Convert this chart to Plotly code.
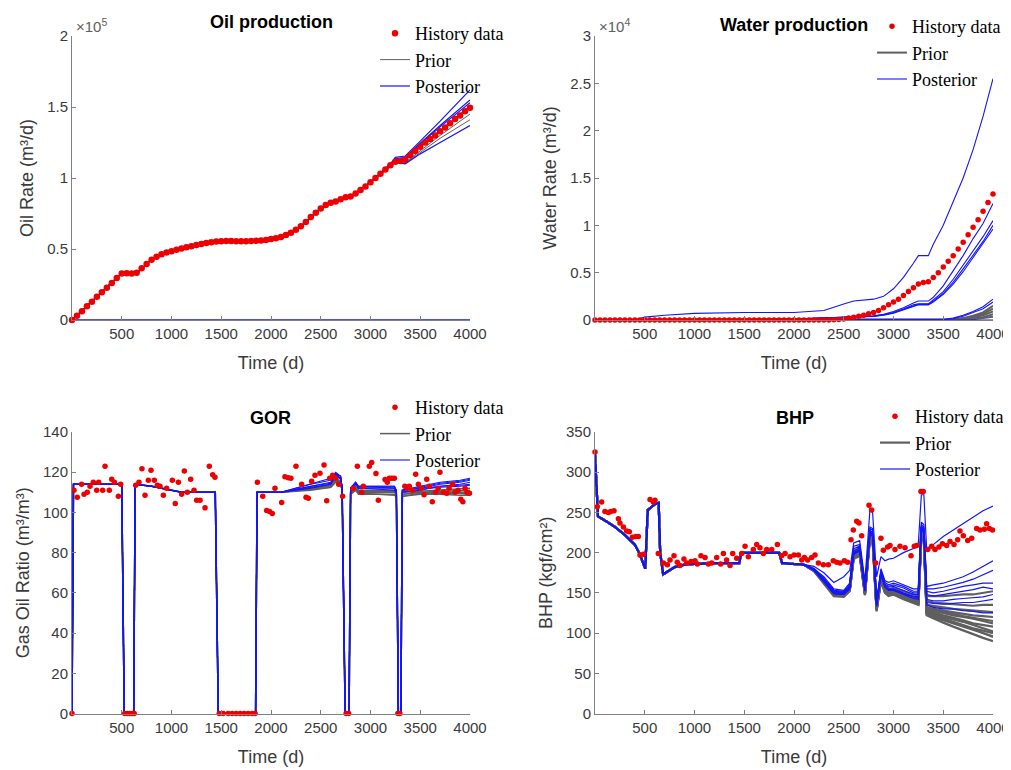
import plotly.graph_objects as go

# ---------------- OIL ----------------
oil_hist_t = list(range(0, 4001, 50))
oil_hist_v = [0, 3000, 6200, 9600, 12900, 16300, 19500, 22700, 26000, 29500,
              32800, 33000, 32800, 33200, 36500, 39500, 42500, 44500, 46300, 47500,
              48500, 49500, 50300, 51200, 52000, 52800, 53500, 54200, 54800, 55200,
              55500, 55600, 55600, 55500, 55500, 55500, 55600, 55800, 56000, 56400,
              57000, 57600, 58500, 59800, 61500, 63500, 66000, 69000, 72500, 75500,
              78500, 81000, 82500, 83500, 85000, 86500, 87000, 89000, 91500, 94000,
              97000, 100000, 103000, 106000, 109000, 111500, 112000, 113000, 116000, 119000,
              122000, 125000, 127500, 130000, 133000, 135500, 138500, 141500, 144000, 147000,
              149500]
oil_t_head = [0, 500, 650, 800, 1000, 1200, 1500, 1900, 2100, 2300, 2500, 2600, 2750, 2800, 3000]
oil_head = [0, 33000, 33000, 42500, 48500, 52000, 55500, 56000, 58500, 66000, 78500, 82500, 86500, 87000, 97000]
oil_t_tail = [3200, 3250, 3350, 3500, 3700, 4000]
oil_post_tails = [
    [110000, 114500, 115500, 126000, 140000, 162000],
    [109500, 113000, 114000, 124000, 136000, 153000],
    [109000, 112000, 113000, 122500, 133500, 150500],
    [108500, 111000, 110000, 117000, 125000, 137000],
    [109500, 113500, 114500, 124500, 137000, 155000],
]
oil_prior_tails = [
    [109000, 111500, 111000, 119000, 130000, 145000],
    [108800, 111200, 110500, 118000, 128000, 141000],
]
oil_zero_t = [0, 4000]
oil_zero_v = [0, 0]

# ---------------- WATER ----------------
wat_hist_t = list(range(0, 4001, 50))
wat_hist_v = [0, 0, 0, 0, 0, 0, 0, 0, 0, 0,
              0, 0, 0, 0, 0, 0, 0, 0, 0, 0,
              0, 0, 0, 0, 0, 0, 0, 0, 0, 0,
              0, 0, 0, 0, 0, 0, 0, 0, 0, 0,
              0, 0, 0, 0, 0, 0, 0, 0, 30, 50,
              100, 200, 300, 400, 500, 650, 800, 1000, 1300, 1600,
              1900, 2200, 2600, 3000, 3400, 3800, 3950, 4050, 4500, 5000,
              5600, 6200, 6800, 7500, 8200, 9000, 9800, 10600, 11500, 12400,
              13300]
wat_t_line = [0, 400, 500, 700, 1000, 1500, 2000, 2300, 2500, 2600, 2800, 2900,
              3000, 3100, 3200, 3250, 3350, 3400, 3500, 3600, 3700, 3800, 3900, 4000]
wat_post = [
    [0, 0, 300, 500, 700, 800, 800, 1000, 1700, 2000, 2200, 2500, 3300, 4500, 6000, 6800, 6800, 8000, 10000, 12500, 15000, 18000, 21500, 25500],
    [0, 0, 0, 0, 0, 50, 100, 200, 300, 350, 450, 600, 900, 1300, 1800, 2000, 2000, 2400, 3600, 5200, 6800, 8600, 10200, 12300],
    [0, 0, 0, 0, 0, 50, 100, 180, 280, 330, 420, 560, 800, 1150, 1600, 1700, 1700, 2100, 3000, 4300, 5800, 7300, 8800, 10500],
    [0, 0, 0, 0, 0, 40, 90, 170, 260, 310, 400, 530, 760, 1100, 1500, 1650, 1650, 2000, 2800, 4000, 5400, 6900, 8300, 10000],
    [0, 0, 0, 0, 0, 40, 80, 160, 250, 300, 380, 500, 720, 1050, 1450, 1600, 1600, 1900, 2700, 3800, 5100, 6600, 8000, 9600],
    [0, 0, 0, 0, 0, 0, 0, 0, 0, 0, 0, 0, 0, 0, 0, 0, 0, 0, 50, 200, 500, 900, 1400, 2200],
    [0, 0, 0, 0, 0, 0, 0, 0, 0, 0, 0, 0, 0, 0, 0, 0, 0, 0, 30, 150, 400, 800, 1200, 1900],
    [0, 0, 0, 0, 0, 0, 0, 0, 0, 0, 0, 0, 0, 0, 0, 0, 0, 0, 0, 0, 0, 0, 0, 0],
]
wat_t_prior = [0, 3500, 3600, 3700, 3800, 3900, 4000]
wat_prior = [
    [0, 0, 50, 200, 450, 800, 1500],
    [0, 0, 30, 150, 350, 650, 1200],
    [0, 0, 20, 100, 250, 500, 900],
    [0, 0, 10, 60, 150, 300, 600],
    [0, 0, 0, 30, 80, 180, 350],
]

# ---------------- GOR ----------------
gor_hist_t = [0, 20, 53, 97, 121, 154, 181, 214, 248, 268, 308, 332, 375, 399, 426, 466, 489,
              530, 555, 580, 605, 625,
              640, 673, 703, 734, 767, 794, 827, 858, 884, 918, 951, 1008, 1038, 1069, 1102,
              1129, 1159, 1193, 1226, 1253, 1287, 1337, 1380, 1414, 1437,
              1480, 1520, 1570, 1610, 1650, 1690, 1730, 1770, 1810, 1840,
              1863, 1917, 1956, 1985, 2013, 2040, 2107, 2140, 2173, 2200, 2251, 2308, 2352,
              2375, 2408, 2442, 2492, 2533, 2560, 2590, 2620, 2650, 2680, 2720,
              2755, 2780,
              2825, 2868, 2911, 2928, 2988, 3012, 3055, 3079, 3146, 3169, 3190, 3215, 3240,
              3275, 3295,
              3345, 3370, 3390, 3420, 3454, 3481, 3510, 3538, 3565, 3590, 3621, 3655, 3680,
              3698, 3732, 3765, 3790, 3826, 3850, 3880, 3908, 3928, 3950, 3968, 3995]
gor_hist_v = [0, 111, 107.5, 114, 109, 110, 113, 115, 111, 115, 111, 123, 111, 116.5, 115, 108, 114,
              0, 0, 0, 0, 0,
              113.5, 115, 121.7, 108.5, 116, 121, 116, 113.5, 113, 108.6, 112, 116, 104.5, 115, 109,
              120.6, 110, 116.5, 111, 106, 106, 102.3, 123, 118.7, 117.5,
              0, 0, 0, 0, 0, 0, 0, 0, 0, 0,
              115, 108, 101, 100.5, 99.5, 112, 105, 117.8, 117.3, 117, 123, 114, 107.5,
              107, 115.5, 118.5, 119.5, 123.6, 105.8, 117, 118.5, 117, 114, 108,
              0, 0,
              112, 123, 110, 113, 123, 124.8, 119.4, 106, 116.4, 115, 117, 117, 117,
              0, 0,
              113, 112, 113, 111, 119, 114, 112, 108.8, 116.5, 113, 105.3, 110, 112,
              120, 110, 109.6, 112, 114, 110, 111, 106.5, 105.3, 112, 110, 109.6]
gor_t_head = [0, 15, 500, 525, 620, 635, 800, 1100, 1440, 1470, 1845, 1860]
gor_head = [0, 114, 114, 0, 0, 114, 113, 110, 110, 0, 0, 110]
gor_t_tail = [2100, 2400, 2600, 2650, 2700, 2715, 2745, 2785, 2800, 2850, 2880, 2920,
              3240, 3260, 3280, 3305, 3320, 3500, 3700, 3900, 4000]
gor_post_tails = [
    [110, 113, 115, 119.5, 118, 112, 0, 0, 112, 115, 113, 113, 113, 111, 0, 0, 111, 112, 114, 115, 116],
    [110, 114, 116, 119, 117, 113, 0, 0, 111, 114, 112, 112, 112, 111, 0, 0, 111, 113, 115, 116, 117],
    [110, 112, 114, 118, 117, 112, 0, 0, 112, 115, 112, 112, 111, 110, 0, 0, 110, 111, 113, 114, 115],
    [110, 113, 114.5, 118.5, 116.5, 113, 0, 0, 112, 114, 112, 112.5, 112.5, 111, 0, 0, 111, 112, 113, 113.5, 114],
    [110, 112.5, 114, 119, 118, 112, 0, 0, 111.5, 114.5, 112.5, 113, 113, 111, 0, 0, 111, 112.5, 114.5, 115.5, 116.5],
    [110, 114, 117, 120, 118, 112, 0, 0, 112, 115, 113, 113, 112, 110, 0, 0, 110, 111.5, 112.5, 113, 113.5],
]
gor_prior_tails = [
    [110, 112, 113, 116, 115, 111, 0, 0, 110, 112, 110, 110, 110, 109, 0, 0, 109, 110, 110, 110, 110],
    [110, 111, 112.5, 115, 114, 111, 0, 0, 109, 111, 109, 109, 109, 108, 0, 0, 108, 109, 109, 108.5, 108.5],
    [110, 112.5, 113.5, 117, 115.5, 111.5, 0, 0, 110.5, 113, 111, 111, 111, 110, 0, 0, 110, 110.5, 111, 111.5, 112],
    [110, 111.5, 112.5, 115.5, 114.5, 111, 0, 0, 109.5, 111.5, 109.5, 109.5, 108.5, 108, 0, 0, 108, 109.5, 109.5, 109.5, 109],
    [110, 112, 113, 116.5, 115, 111, 0, 0, 110, 112.5, 110.5, 110.5, 110.5, 109, 0, 0, 109, 110, 110.5, 111, 111],
]

# ---------------- BHP ----------------
bhp_hist_t = [0, 23, 67, 100, 135, 158, 191, 235, 251, 285, 318, 345, 375, 409, 436, 452, 486,
              553, 586, 603, 636, 687, 727, 754, 794, 827, 854, 894, 921, 965, 1005, 1028, 1065,
              1106, 1139, 1173, 1223, 1263, 1290, 1323, 1357, 1384, 1424, 1474, 1508, 1541, 1591,
              1625, 1658, 1692, 1725, 1776, 1833, 1876, 1910, 1960, 2000, 2044, 2078, 2104, 2137,
              2178, 2211, 2245, 2295, 2345, 2395, 2429, 2462, 2506, 2539, 2573, 2596, 2630, 2653,
              2680, 2754, 2780, 2821, 2874, 2898, 2941, 2965, 3015, 3065, 3116, 3176, 3209, 3233,
              3276, 3299, 3344, 3384, 3417, 3457, 3491, 3534, 3568, 3608, 3645, 3668, 3702, 3746,
              3786, 3836, 3869, 3913, 3936, 3963, 3995]
bhp_hist_v = [325, 257, 263, 251, 250, 251, 252, 242, 237, 232, 227, 226, 219, 220, 220, 197, 198,
              266, 263, 265, 199, 187, 185, 191, 196, 188, 184, 192, 187, 189, 190, 186, 196,
              194, 186, 187, 194, 186, 199, 191, 184, 199, 193, 199, 208, 195, 204,
              210, 206, 199, 204, 204, 210, 196, 199, 195, 197, 197, 191, 194, 191,
              194, 197, 187, 185, 185, 190, 188, 187, 190, 188, 216, 228, 239, 237,
              221, 259, 253, 187, 218, 203, 207, 209, 204, 208, 206, 196, 208, 209,
              276, 276, 204, 208, 204, 207, 211, 209, 214, 210, 216, 227, 221, 215,
              218, 230, 228, 229, 236, 230, 228]
bhp_t_head = [0, 30, 100, 200, 300, 400, 450, 505, 530, 600, 640, 655, 685, 720, 800, 900,
              1000, 1200, 1450, 1470, 1850, 1880, 2100]
bhp_head = [322, 245, 240, 232, 222, 210, 198, 180, 253, 260, 262, 200, 173, 176, 182, 185,
            186, 187, 187, 200, 200, 187, 185]
bhp_t_tail = [2200, 2300, 2400, 2500, 2560, 2600, 2660, 2713, 2764, 2790, 2830, 2874, 2914,
              2950, 3000, 3100, 3200, 3250, 3280, 3305, 3333, 3400, 3500, 3600, 3700, 3800, 3900, 4000]
bhp_post_tails = [
    [183, 175, 163, 170, 178, 212, 215, 165, 255, 250, 170, 195, 190, 192, 193, 200, 205, 212, 272, 272, 205, 210, 220, 228, 236, 245, 252, 258],
    [180, 170, 155, 153, 162, 208, 210, 158, 232, 230, 140, 180, 165, 163, 165, 160, 155, 155, 238, 235, 158, 160, 162, 166, 170, 176, 183, 190],
    [180, 168, 153, 152, 160, 205, 208, 156, 230, 228, 138, 178, 163, 160, 162, 158, 152, 152, 235, 232, 155, 155, 157, 160, 163, 167, 172, 178],
    [179, 167, 152, 151, 158, 202, 206, 155, 228, 225, 136, 176, 161, 158, 160, 156, 150, 150, 233, 230, 152, 150, 152, 155, 158, 160, 162, 162],
    [179, 166, 150, 150, 157, 200, 204, 154, 226, 222, 135, 175, 160, 157, 158, 153, 148, 148, 232, 228, 148, 146, 148, 150, 152, 154, 157, 155],
    [178, 165, 150, 149, 156, 200, 203, 153, 225, 223, 134, 174, 158, 155, 155, 150, 146, 145, 232, 226, 142, 140, 140, 142, 143, 144, 145, 148],
    [178, 165, 149, 148, 155, 198, 202, 152, 224, 220, 133, 172, 157, 153, 153, 148, 143, 142, 230, 224, 135, 132, 130, 130, 128, 127, 125, 125],
    [178, 164, 149, 148, 155, 199, 203, 153, 225, 222, 134, 173, 158, 154, 154, 149, 145, 144, 231, 225, 138, 137, 136, 137, 138, 138, 140, 142],
]
bhp_prior_tails = [
    [179, 165, 150, 149, 156, 199, 203, 151, 224, 220, 132, 170, 155, 151, 152, 147, 142, 140, 228, 222, 130, 128, 125, 122, 120, 118, 115, 112],
    [178, 164, 148, 147, 154, 196, 200, 149, 222, 218, 130, 168, 153, 149, 150, 145, 140, 138, 225, 220, 127, 124, 120, 117, 114, 110, 106, 102],
    [178, 163, 147, 146, 153, 194, 198, 148, 220, 216, 128, 166, 151, 147, 149, 144, 139, 137, 222, 216, 124, 120, 116, 112, 108, 104, 100, 96],
    [177, 163, 147, 146, 153, 196, 199, 149, 221, 217, 129, 167, 152, 148, 148, 143, 138, 136, 224, 218, 132, 130, 128, 126, 124, 122, 121, 120],
    [179, 166, 151, 150, 157, 200, 204, 152, 225, 221, 133, 172, 156, 152, 153, 149, 144, 142, 230, 224, 140, 138, 137, 136, 135, 134, 135, 135],
    [178, 164, 148, 147, 154, 197, 201, 150, 223, 219, 131, 169, 154, 150, 151, 146, 141, 139, 226, 220, 128, 126, 122, 119, 116, 112, 110, 108],
    [180, 167, 152, 151, 158, 202, 206, 153, 226, 223, 135, 173, 158, 154, 156, 152, 148, 146, 232, 226, 146, 146, 146, 147, 148, 148, 150, 152],
    [177, 162, 146, 145, 152, 192, 196, 147, 218, 215, 127, 164, 150, 146, 148, 142, 137, 135, 220, 214, 122, 118, 113, 108, 103, 98, 94, 90],
    [178, 163, 147, 146, 153, 195, 199, 148, 221, 217, 129, 167, 152, 148, 149, 144, 139, 137, 224, 218, 126, 122, 118, 114, 110, 106, 103, 100],
    [179, 165, 150, 149, 156, 198, 202, 151, 224, 220, 132, 170, 155, 151, 152, 148, 143, 141, 228, 222, 135, 134, 132, 130, 129, 128, 127, 126],
    [178, 164, 149, 148, 155, 197, 201, 150, 223, 219, 130, 168, 153, 149, 150, 146, 141, 139, 226, 220, 131, 129, 126, 124, 121, 119, 117, 115],
    [178, 163, 148, 147, 154, 195, 199, 149, 222, 218, 129, 167, 152, 148, 149, 145, 140, 138, 224, 218, 124, 121, 117, 113, 109, 105, 100, 95],
]

x_ticks = [500, 1000, 1500, 2000, 2500, 3000, 3500, 4000]
oil_yticks = [0, 50000, 100000, 150000, 200000]
oil_ytext = ["0", "0.5", "1", "1.5", "2"]
wat_yticks = [0, 5000, 10000, 15000, 20000, 25000, 30000]
wat_ytext = ["0", "0.5", "1", "1.5", "2", "2.5", "3"]
gor_yticks = [0, 20, 40, 60, 80, 100, 120, 140]
bhp_yticks = [0, 50, 100, 150, 200, 250, 300, 350]

RED = "#ee0000"
BLUE = "#1414ff"
GRAY = "#5f5f5f"

fig = go.Figure()


def add_lines(xs, ys_list, color, width, xa, ya, leg, name, rank, show_first=True):
    for i, ys in enumerate(ys_list):
        fig.add_trace(go.Scatter(
            x=xs, y=ys, mode="lines", line=dict(color=color, width=width),
            xaxis=xa, yaxis=ya, legend=leg, name=name, legendgroup=leg + name,
            legendrank=rank, showlegend=(i == 0 and show_first), hoverinfo="skip"))


def add_hist(xs, ys, xa, ya, leg, size=6):
    fig.add_trace(go.Scatter(
        x=xs, y=ys, mode="markers", marker=dict(color=RED, size=size),
        xaxis=xa, yaxis=ya, legend=leg, name="History data", legendgroup=leg + "h",
        legendrank=1, cliponaxis=False))


# Oil
add_lines(oil_t_head + oil_t_tail, [oil_head + tl for tl in oil_prior_tails], GRAY, 1, "x", "y", "legend", "Prior", 2)
add_lines(oil_t_head + oil_t_tail, [oil_head + tl for tl in oil_post_tails], BLUE, 1.2, "x", "y", "legend", "Posterior", 3)
add_lines(oil_zero_t, [oil_zero_v], BLUE, 1.5, "x", "y", "legend", "Posterior", 3, show_first=False)
add_hist(oil_hist_t, oil_hist_v, "x", "y", "legend", 6.5)

# Water
add_lines(wat_t_prior, wat_prior, GRAY, 2, "x2", "y2", "legend2", "Prior", 2)
add_lines(wat_t_line, wat_post, BLUE, 1.1, "x2", "y2", "legend2", "Posterior", 3)
add_hist(wat_hist_t, wat_hist_v, "x2", "y2", "legend2", 5.5)

# GOR
add_lines(gor_t_head + gor_t_tail, [gor_head + tl for tl in gor_prior_tails], GRAY, 1.5, "x3", "y3", "legend3", "Prior", 2)
add_lines(gor_t_head + gor_t_tail, [gor_head + tl for tl in gor_post_tails], BLUE, 1.1, "x3", "y3", "legend3", "Posterior", 3)
add_hist(gor_hist_t, gor_hist_v, "x3", "y3", "legend3", 5.5)

# BHP
add_lines(bhp_t_head + bhp_t_tail, [bhp_head + tl for tl in bhp_prior_tails], GRAY, 2.2, "x4", "y4", "legend4", "Prior", 2)
add_lines(bhp_t_head + bhp_t_tail, [bhp_head + tl for tl in bhp_post_tails], BLUE, 1.2, "x4", "y4", "legend4", "Posterior", 3)
add_hist(bhp_hist_t, bhp_hist_v, "x4", "y4", "legend4", 5.5)

TXT = "#3a3a3a"
AXC = "#808080"
tickfont = dict(family="Liberation Sans, Arial, sans-serif", size=15, color=TXT)
titlefont = dict(family="Liberation Sans, Arial, sans-serif", size=18, color=TXT)

# page offset (browser body margin) and figure size
OFF = 8
W = 1003
H = 762


def px_x(X):
    return (X - OFF) / W


def px_y(Y):
    return 1 - (Y - OFF) / H


def xax(domain, anchor):
    return dict(domain=domain, anchor=anchor, range=[0, 4000], tickvals=x_ticks,
                showline=True, linecolor=AXC, linewidth=1, ticks="inside", ticklen=4,
                tickcolor=AXC, showgrid=False, zeroline=False, tickfont=tickfont,
                title=dict(text="Time (d)", font=titlefont, standoff=15))


def yax(domain, anchor, rng, tv, tt, title):
    return dict(domain=domain, anchor=anchor, range=rng, tickvals=tv, ticktext=tt,
                showline=True, linecolor=AXC, linewidth=1, ticks="inside", ticklen=4,
                tickcolor=AXC, showgrid=False, zeroline=False, tickfont=tickfont,
                title=dict(text=title, font=titlefont, standoff=8))


XL = [px_x(72), px_x(470)]
XR = [px_x(595), px_x(993)]
YT = [px_y(320), px_y(36)]
YB = [px_y(713.5), px_y(432)]


def legend(x, y):
    return dict(x=x, y=y, xanchor="right", yanchor="top", bgcolor="rgba(0,0,0,0)",
                font=dict(family="Liberation Serif, Times New Roman, serif", size=18, color="black"),
                tracegroupgap=0, itemwidth=30, traceorder="grouped")


def title_ann(text, x, y):
    return dict(text="<b>%s</b>" % text, x=x, y=y, xref="paper", yref="paper",
                showarrow=False, xanchor="center", yanchor="middle",
                font=dict(family="Liberation Sans, Arial, sans-serif", size=18, color="black"))


def exp_ann(text, x, y):
    return dict(text=text, x=x, y=y, xref="paper", yref="paper", showarrow=False,
                xanchor="left", yanchor="middle",
                font=dict(family="Liberation Sans, Arial, sans-serif", size=15, color="#606060"))


fig.update_layout(
    width=W, height=H, margin=dict(l=0, r=0, t=0, b=0, autoexpand=False),
    plot_bgcolor="white", paper_bgcolor="white",
    xaxis=xax(XL, "y"), yaxis=yax(YT, "x", [0, 200000], oil_yticks, oil_ytext, "Oil Rate (m³/d)"),
    xaxis2=xax(XR, "y2"), yaxis2=yax(YT, "x2", [0, 30000], wat_yticks, wat_ytext, "Water Rate (m³/d)"),
    xaxis3=xax(XL, "y3"), yaxis3=yax(YB, "x3", [0, 140], gor_yticks, [str(v) for v in gor_yticks], "Gas Oil Ratio (m³/m³)"),
    xaxis4=xax(XR, "y4"), yaxis4=yax(YB, "x4", [0, 350], bhp_yticks, [str(v) for v in bhp_yticks], "BHP (kgf/cm²)"),
    legend=legend(px_x(509), px_y(15)),
    legend2=legend(px_x(1006), px_y(8)),
    legend3=legend(px_x(509), px_y(389)),
    legend4=legend(px_x(1009), px_y(398)),
    annotations=[
        title_ann("Oil production", px_x(271), px_y(22)),
        title_ann("Water production", px_x(794), px_y(25)),
        title_ann("GOR", px_x(270), px_y(418)),
        title_ann("BHP", px_x(795), px_y(418)),
        exp_ann("×10<sup>5</sup>", px_x(74), px_y(26)),
        exp_ann("×10<sup>4</sup>", px_x(597), px_y(26)),
    ],
    showlegend=True,
)

fig.write_html("out.html")
